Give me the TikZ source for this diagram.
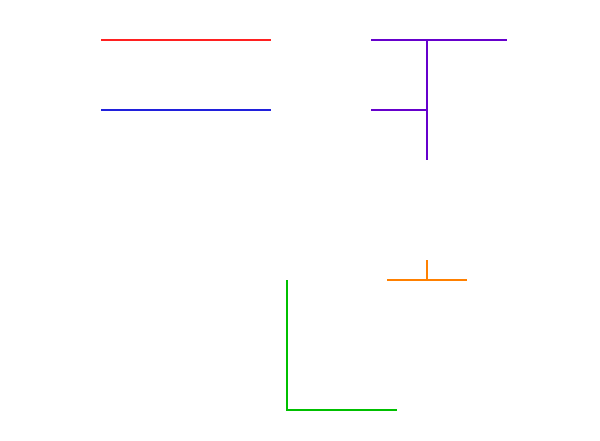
\documentclass[tikz,border=0pt]{standalone}
\begin{document}
\begin{tikzpicture}[x=1pt,y=-1pt,
  seg/.style={line width=1.2pt},
  redl/.style={seg,draw={rgb,255:red,255;green,32;blue,32}},
  bluel/.style={seg,draw={rgb,255:red,32;green,32;blue,220}},
  purl/.style={seg,draw={rgb,255:red,102;green,0;blue,204}},
  orl/.style={seg,draw={rgb,255:red,255;green,128;blue,0}},
  grl/.style={seg,draw={rgb,255:red,0;green,192;blue,0}}]
\fill[white] (0,0) rectangle (600,441);
\useasboundingbox (0,0) rectangle (600,441);
% coordinates
\coordinate (r1) at (101,40); \coordinate (r2) at (271,40);
\coordinate (b1) at (101,110); \coordinate (b2) at (271,110);
\coordinate (p1) at (371,40); \coordinate (p2) at (507,40);
\coordinate (pj) at (427,40); \coordinate (pm) at (427,110);
\coordinate (p3) at (371,110); \coordinate (pb) at (427,160);
\coordinate (o0) at (427,260); \coordinate (oj) at (427,280);
\coordinate (o1) at (387,280); \coordinate (o2) at (467,280);
\coordinate (g1) at (287,280); \coordinate (g2) at (287,410); \coordinate (g3) at (397,410);
% lines
\draw[redl] (r1) -- (r2);
\draw[bluel] (b1) -- (b2);
\draw[purl] (p1) -- (p2);
\draw[purl] (pj) -- (pb);
\draw[purl] (p3) -- (pm);
\draw[orl] (o0) -- (oj);
\draw[orl] (o1) -- (o2);
\draw[grl] (g1) -- (g2) -- (g3);
\end{tikzpicture}
\end{document}
